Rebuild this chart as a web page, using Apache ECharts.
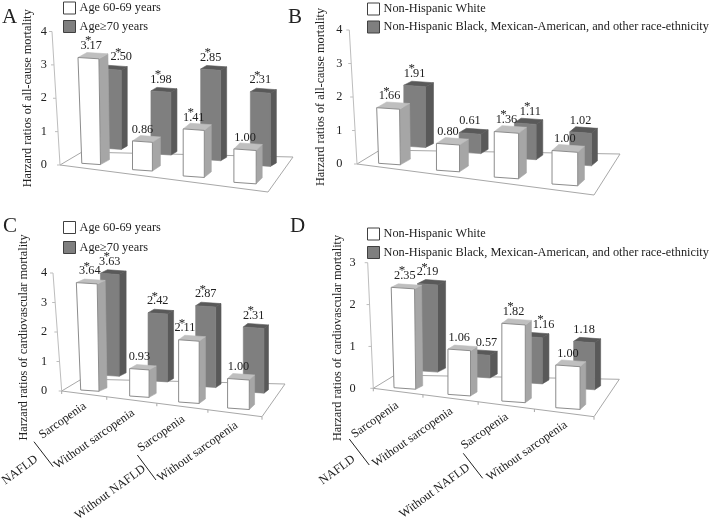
<!DOCTYPE html>
<html><head><meta charset="utf-8">
<style>html,body{margin:0;padding:0;background:#fff}#c{width:710px;height:521px}</style>
<script src="https://cdn.jsdelivr.net/npm/echarts@6/dist/echarts.min.js"></script>
</head><body><div id="c"></div>
<script>
// ---------- data ----------
const categories = ['Sarcopenia', 'Without sarcopenia', 'Sarcopenia', 'Without sarcopenia'];
const groups = ['NAFLD', 'Without NAFLD'];
const ageLegend = ['Age 60-69 years', 'Age\u226570 years'];
const raceLegend = ['Non-Hispanic White', 'Non-Hispanic Black, Mexican-American, and other race-ethnicity'];
const allCauseTitle = 'Harzard ratios of all-cause mortality';
const cvdTitle = 'Harzard ratios of cardiovascular mortality';

const aFront = [3.17, 0.86, 1.41, 1.00];
const aBack  = [2.50, 1.98, 2.85, 2.31];
const aFrontSig = [1, 0, 1, 0];
const aBackSig  = [1, 1, 1, 1];

const bFront = [1.66, 0.80, 1.36, 1.00];
const bBack  = [1.91, 0.61, 1.11, 1.02];
const bFrontSig = [1, 0, 1, 0];
const bBackSig  = [1, 0, 1, 0];

const cFront = [3.64, 0.93, 2.11, 1.00];
const cBack  = [3.63, 2.42, 2.87, 2.31];
const cFrontSig = [1, 0, 1, 0];
const cBackSig  = [1, 1, 1, 1];

const dFront = [2.35, 1.06, 1.82, 1.00];
const dBack  = [2.19, 0.57, 1.16, 1.18];
const dFrontSig = [1, 0, 1, 0];
const dBackSig  = [1, 0, 1, 0];

// ---------- styling and perspective ----------
const FONT = '"Liberation Serif","Times New Roman",serif';
const TXT = '#222';
const FS = 12.3;
const C = {
  frontFace:'#fff', frontEdge:'#8c8c8c', frontSide:'#a6a6a6', frontTop:'#bfbfbf',
  backFace:'#7f7f7f', backSide:'#595959', backTop:'#595959', floor:'#a8a8a8'
};
const panels = [
 { letter:'A', letterPos:[2,7], names:ageLegend, yName:allCauseTitle, max:4,
   front:aFront, back:aBack, frontSig:aFrontSig, backSig:aBackSig,
   grid:{left:64.9,width:205.2,top:31.5,height:133.5}, labelMargin:18, nameGap:31, namePad:0,
   legendPos:[63,1.5], legendGap:5.5,
   fg:{dx:[0.6,0.6],dy:[-1.7,17.3],w:[18.7,22.3],sx:[9,6],sy:[-5,-6],h:1},
   bg:{dx:[20.7,15.9],dy:[-17,0],w:[20,20],sx:[6,6],sy:[-3.5,-3.5],h:.95},
   frontLabelDx:[0,0,0,0], backLabelDx:[10,0,0,0],
   floor:[[-4.9,0],[17.1,-13],[228.1,-8],[203.1,27]], wall:-12.9 },
 { letter:'B', letterPos:[288,7], names:raceLegend, yName:allCauseTitle, max:4,
   front:bFront, back:bBack, frontSig:bFrontSig, backSig:bBackSig,
   grid:{left:360.3,width:233.8,top:30,height:134}, labelMargin:18, nameGap:34, namePad:0,
   legendPos:[367,2.5], legendGap:5,
   fg:{dx:[0,0],dy:[-.7,20],w:[21.7,25.7],sx:[10,6.7],sy:[-5.7,-6],h:1},
   bg:{dx:[25.1,15.7],dy:[-18,.3],w:[21.7,21.7],sx:[8,6],sy:[-4,-5],h:.95},
   frontLabelDx:[0,0,0,0], backLabelDx:[0,0,5,0],
   floor:[[-3.3,0],[19.7,-14],[259.7,-10],[233.7,31]], wall:-11 },
 { letter:'C', letterPos:[3,216], names:ageLegend, yName:cvdTitle, max:4,
   front:cFront, back:cBack, frontSig:cFrontSig, backSig:cBackSig,
   grid:{left:65.1,width:198.1,top:273,height:118}, labelMargin:18, nameGap:35, namePad:11,
   legendPos:[63,221], legendGap:7,
   fg:{dx:[0,0],dy:[-1,17],w:[18.3,21.7],sx:[8,5.3],sy:[-3.5,-5],h:1},
   bg:{dx:[19.9,15.2],dy:[-16,.7],w:[18.7,20.7],sx:[7,4.5],sy:[-3.5,-3.5],h:.95},
   frontLabelDx:[0,0,-4,0], backLabelDx:[0,0,0,0],
   floor:[[-3.4,0],[16.6,-12],[219.9,-7],[196.9,25.7]], wall:-12.1,
   ticks:[0,.225,.475,.73,1],
   catLabels:[[-27.2,29.7],[-45.1,48],[-27.6,42.7],[-40.8,60.7]],
   groupLabels:[[-69.9,79],[-78.6,101.3]],
   brackets:[[-55.9,50.7,-36.6,75.7],[-51.6,64,-32.9,89]] },
 { letter:'D', letterPos:[290,216], names:raceLegend, yName:cvdTitle, max:3,
   front:dFront, back:dBack, frontSig:dFrontSig, backSig:dBackSig,
   grid:{left:377.7,width:217.4,top:262.7,height:125.6}, labelMargin:22, nameGap:34, namePad:25,
   legendPos:[367,227.5], legendGap:5.5,
   fg:{dx:[0,0],dy:[-.6,19.4],w:[21.7,24.3],sx:[7,5.7],sy:[-3.5,-5],h:1.02},
   bg:{dx:[22.7,16.2],dy:[-17.6,0],w:[20,21],sx:[8,6],sy:[-4,-4],h:.95},
   frontLabelDx:[0,0,0,0], backLabelDx:[0,6.7,11.6,0],
   floor:[[-4.4,0],[17.3,-13.3],[241.6,-9],[216.3,28.4]], wall:-10,
   ticks:[0,.225,.475,.73,1],
   catLabels:[[-29.9,31.7],[-46.6,49],[-28.9,43],[-41,62.7]],
   groupLabels:[[-67.6,81.7],[-78.9,102.7]],
   brackets:[[-55.6,50.7,-35.6,76.7],[-50.3,65,-30.9,90]] }
];
const FRONT_SLOPE = 0.07, LEAN_L = 1.2, LEAN_R = 0.5, LABEL_UP = 11.5, STAR_DX = -3, STAR_UP = 5;
const lerp = (r, i) => r[0] + (r[1] - r[0]) * i / 3;

function barGeom(api, g, i, v) {
  const base = api.coord([i, 0]), top = api.coord([i, v]);
  return {
    cx: base[0] + lerp(g.dx, i), by: base[1] + lerp(g.dy, i),
    w: lerp(g.w, i), sx: lerp(g.sx, i), sy: lerp(g.sy, i),
    h: (base[1] - top[1]) * g.h
  };
}
const poly = (points, fill, stroke, lw) => ({
  type:'polygon', shape:{points}, style:{fill, stroke:stroke || fill, lineWidth:lw || .6}
});

function barItem(p, isFront) {
  const g = isFront ? p.fg : p.bg;
  return function (params, api) {
    const i = api.value(0), v = api.value(1), b = barGeom(api, g, i, v);
    const x1 = b.cx - b.w / 2, x2 = b.cx + b.w / 2, drop = b.w * FRONT_SLOPE;
    const lL = (isFront && i === 0) ? LEAN_L * v : 0, lR = (isFront && i === 0) ? LEAN_R * v : 0;
    const bl = [x1, b.by], br = [x2, b.by + drop];
    const tl = [x1 - lL, b.by - b.h], tr = [x2 - lR, b.by - b.h + drop];
    const off = p => [p[0] + b.sx, p[1] + b.sy];
    const face = isFront ? C.frontFace : C.backFace, side = isFront ? C.frontSide : C.backSide,
          topC = isFront ? C.frontTop : C.backTop;
    return { type:'group', children:[
      poly([br, off(br), off(tr), tr], side),
      poly([tl, tr, off(tr), off(tl)], topC),
      poly([bl, br, tr, tl], face, isFront ? C.frontEdge : C.backFace, isFront ? 1 : .6)
    ]};
  };
}

function labelItem(p) {
  return function (params, api) {
    const i = api.value(0), v = api.value(1), isFront = api.value(2) === 1, sig = api.value(3);
    const g = isFront ? p.fg : p.bg, b = barGeom(api, g, i, v);
    const dx = (isFront ? p.frontLabelDx : p.backLabelDx)[i];
    const x = b.cx + dx, y = b.by - b.h - LABEL_UP;
    const kids = [{ type:'text', x, y, style:{ text:v.toFixed(2), fontFamily:FONT, fontSize:FS,
      fill:TXT, textAlign:'center', textVerticalAlign:'middle' } }];
    if (sig) kids.push({ type:'text', x:x + STAR_DX, y:y - STAR_UP, style:{ text:'*', fontFamily:FONT,
      fontSize:13, fill:TXT, textAlign:'center', textVerticalAlign:'middle' } });
    return { type:'group', children:kids };
  };
}

function decoItem(p) {
  return function (params, api) {
    const c0 = api.coord([0, 0]), step = api.coord([1, 0])[0] - c0[0];
    const ox = c0[0] - step / 2, oy = c0[1];
    const pts = p.floor.map(q => [ox + q[0], oy + q[1]]);
    const line = (a, b, col, lw) => ({ type:'line', shape:{x1:a[0],y1:a[1],x2:b[0],y2:b[1]},
      style:{stroke:col, lineWidth:lw || 1} });
    const kids = [{ type:'polygon', shape:{points:pts}, style:{fill:'#fff', stroke:C.floor, lineWidth:1} }];
    const top = api.coord([0, p.max])[1];
    const wallTop = [ox + p.wall, top];
    kids.push(line(pts[0], wallTop, '#bdbdbd'));
    for (let k = 0; k <= p.max; k++) {
      const t = k / p.max, y = oy + (top - oy) * t, x = pts[0][0] + (wallTop[0] - pts[0][0]) * t;
      kids.push(line([x, y], [x - 3, y], '#bdbdbd'));
    }
    (p.ticks || []).forEach(f => {
      const a = [pts[0][0] + (pts[3][0] - pts[0][0]) * f, pts[0][1] + (pts[3][1] - pts[0][1]) * f];
      kids.push(line(a, [a[0], a[1] + 3], C.floor));
    });
    return { type:'group', children:kids };
  };
}

function catItem(p) {
  return function (params, api) {
    const i = api.value(0), c = api.coord([i, 0]), o = p.catLabels[i];
    return { type:'text', x:c[0] + o[0], y:c[1] + o[1], rotation:35 * Math.PI / 180,
      style:{ text:categories[i], fontFamily:FONT, fontSize:FS, fill:TXT, textAlign:'center', textVerticalAlign:'middle' } };
  };
}
function groupItem(p) {
  return function (params, api) {
    const g = api.value(0), c = api.coord([g * 2, 0]), o = p.groupLabels[g], br = p.brackets[g];
    return { type:'group', children:[
      { type:'text', x:c[0] + o[0], y:c[1] + o[1], rotation:36 * Math.PI / 180,
        style:{ text:groups[g], fontFamily:FONT, fontSize:FS, fill:TXT, textAlign:'center', textVerticalAlign:'middle' } },
      { type:'line', shape:{ x1:c[0] + br[0], y1:c[1] + br[1], x2:c[0] + br[2], y2:c[1] + br[3] },
        style:{ stroke:'#222', lineWidth:1 } }
    ]};
  };
}

const option = { animation:false, backgroundColor:'#fff', title:[], grid:[], xAxis:[], yAxis:[], legend:[], series:[] };
panels.forEach((p, n) => {
  option.title.push({ text:p.letter, left:p.letterPos[0], top:p.letterPos[1], padding:0,
    textStyle:{ fontFamily:FONT, fontSize:21, fontWeight:'normal', color:TXT } });
  option.grid.push(p.grid);
  option.xAxis.push({ type:'category', gridIndex:n, data:categories, show:false });
  option.yAxis.push({ type:'value', gridIndex:n, min:0, max:p.max, interval:1,
    name:p.yName, nameLocation:'middle', nameRotate:90, nameGap:p.nameGap,
    nameTextStyle:{ fontFamily:FONT, fontSize:FS, color:TXT, padding:[0, p.namePad, 0, 0] },
    axisLine:{show:false}, axisTick:{show:false}, splitLine:{show:false},
    axisLabel:{ fontFamily:FONT, fontSize:FS, color:TXT, margin:p.labelMargin } });
  option.legend.push({ left:p.legendPos[0], top:p.legendPos[1], orient:'vertical', padding:0,
    itemWidth:12, itemHeight:12, itemGap:p.legendGap, selectedMode:false,
    textStyle:{ fontFamily:FONT, fontSize:FS, color:TXT, padding:[0,0,0,-1] },
    data:[
      { name:p.names[0], icon:'rect', itemStyle:{ color:'#fff', borderColor:'#404040', borderWidth:1 } },
      { name:p.names[1], icon:'rect', itemStyle:{ color:'#7f7f7f', borderColor:'#404040', borderWidth:1 } }
    ] });
  const base = { type:'custom', xAxisIndex:n, yAxisIndex:n, silent:true };
  option.series.push({ ...base, name:'floor', z:1, renderItem:decoItem(p), data:[[0, 0]] });
  option.series.push({ ...base, name:p.names[1], z:2, renderItem:barItem(p, false),
    itemStyle:{color:'#7f7f7f'}, encode:{x:0, y:1}, data:p.back.map((v, i) => [i, v]) });
  option.series.push({ ...base, name:p.names[0], z:3, renderItem:barItem(p, true),
    itemStyle:{color:'#fff'}, encode:{x:0, y:1}, data:p.front.map((v, i) => [i, v]) });
  option.series.push({ ...base, name:'values', z:4, renderItem:labelItem(p), encode:{x:0, y:1},
    data:p.back.map((v, i) => [i, v, 0, p.backSig[i]]).concat(p.front.map((v, i) => [i, v, 1, p.frontSig[i]])) });
  if (p.catLabels) {
    option.series.push({ ...base, name:'categories', z:4, renderItem:catItem(p), data:categories.map((c, i) => [i]) });
    option.series.push({ ...base, name:'groups', z:4, renderItem:groupItem(p), data:groups.map((c, i) => [i]) });
  }
});
const chart = echarts.init(document.getElementById('c'), null, { renderer:'canvas' });
chart.setOption(option);
</script></body></html>
